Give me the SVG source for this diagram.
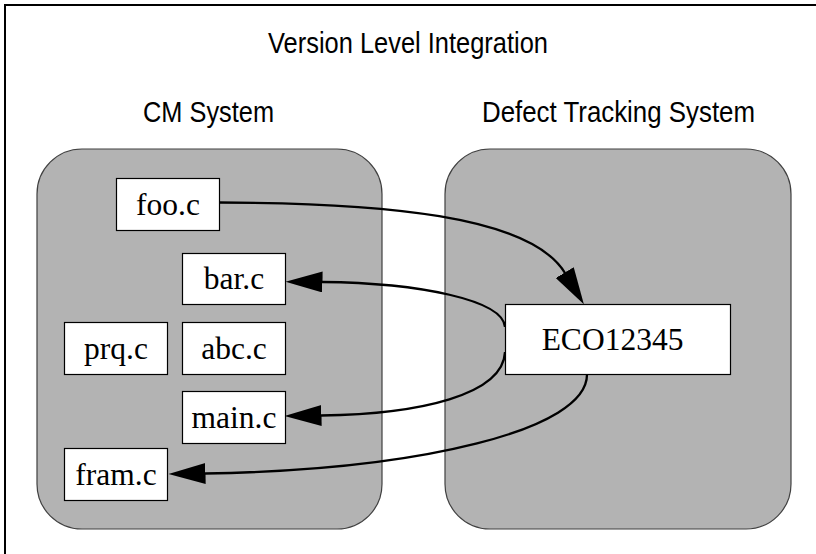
<svg xmlns="http://www.w3.org/2000/svg" width="816" height="554" viewBox="0 0 816 554">
<style>
.title{font-family:"Liberation Sans",Arial,sans-serif;font-size:29px;fill:#000;text-anchor:middle}
.panel{fill:#b3b3b3;stroke:#404040;stroke-width:1.2}
.box{fill:#fff;stroke:#000;stroke-width:1.2}
.lbl{font-family:"Liberation Serif","Times New Roman",serif;font-size:31.5px;fill:#000;text-anchor:middle}
.edge{fill:none;stroke:#000;stroke-width:2.3;marker-end:url(#arr)}
</style>
<defs>
<marker id="arr" markerUnits="userSpaceOnUse" markerWidth="37" markerHeight="21" viewBox="0 0 37 21" refX="0.5" refY="10.5" orient="auto">
<path d="M0,0 L37,10.5 L0,21 z" fill="#000"/>
</marker>
</defs>
<rect width="816" height="554" fill="#fff"/>
<polyline points="5,554 5,5 816,5" fill="none" stroke="#000" stroke-width="2"/>
<text class="title" x="408" y="53" textLength="280" lengthAdjust="spacingAndGlyphs">Version Level Integration</text>
<g id="cm-system">
<rect class="panel" x="37" y="149" width="345" height="380" rx="45" ry="45"/>
<text class="title" x="208.5" y="121.5" textLength="131" lengthAdjust="spacingAndGlyphs">CM System</text>
</g>
<g id="defect-tracking-system">
<rect class="panel" x="445" y="149" width="346" height="380" rx="45" ry="45"/>
<text class="title" x="618.5" y="121.5" textLength="273" lengthAdjust="spacingAndGlyphs">Defect Tracking System</text>
</g>
<g id="connectors">
<path class="edge" d="M219,202.5 C380,203 530,215 565,273"/>
<path class="edge" d="M505,327 C503,300 420,283 322,282"/>
<path class="edge" d="M505,352 C503,395 420,414 321,415.5"/>
<path class="edge" d="M587,374 C588,430 420,470 205,473.5"/>
</g>
<g id="foo-c">
<rect class="box" x="116.5" y="178.5" width="103" height="52"/>
<text class="lbl" x="168" y="215">foo.c</text>
</g>
<g id="bar-c">
<rect class="box" x="182.5" y="253.5" width="103" height="51"/>
<text class="lbl" x="234" y="289">bar.c</text>
</g>
<g id="prq-c">
<rect class="box" x="64.5" y="322.5" width="103" height="52"/>
<text class="lbl" x="116" y="358.5">prq.c</text>
</g>
<g id="abc-c">
<rect class="box" x="182.5" y="322.5" width="103" height="52"/>
<text class="lbl" x="234" y="358.5">abc.c</text>
</g>
<g id="main-c">
<rect class="box" x="182.5" y="391.5" width="103" height="52"/>
<text class="lbl" x="234" y="428">main.c</text>
</g>
<g id="fram-c">
<rect class="box" x="64.5" y="448.5" width="103" height="52"/>
<text class="lbl" x="116" y="485">fram.c</text>
</g>
<g id="eco12345">
<rect class="box" x="505.5" y="304.5" width="225" height="70"/>
<text class="lbl" x="612.5" y="350">ECO12345</text>
</g>
</svg>
